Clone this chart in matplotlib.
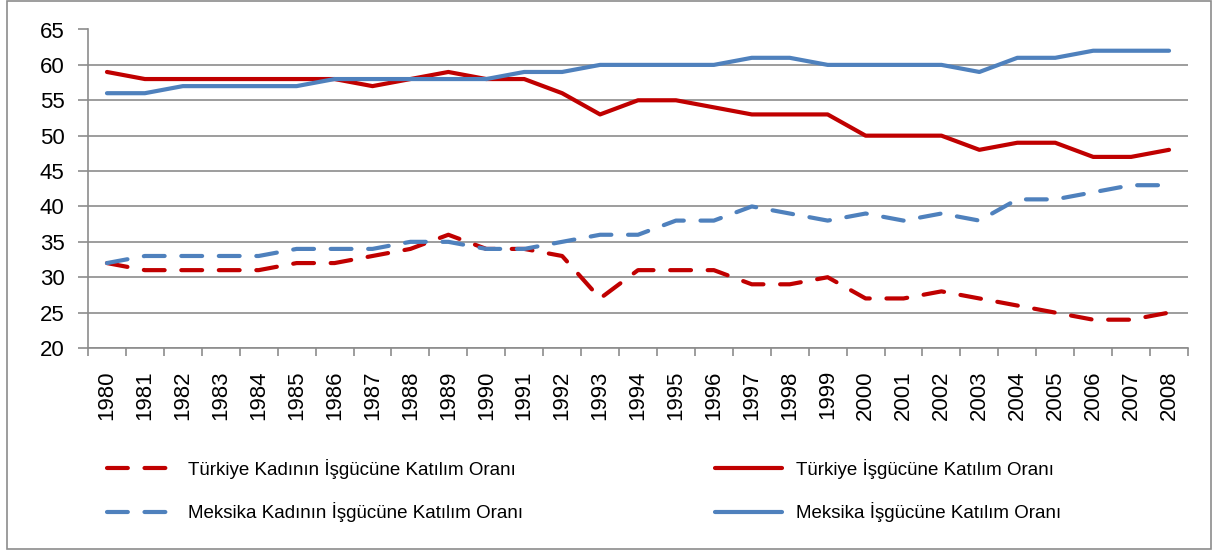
import matplotlib.pyplot as plt
from matplotlib.patches import Rectangle

years = [str(y) for y in range(1980, 2009)]

turkiye_kadin = [32, 31, 31, 31, 31, 32, 32, 33, 34, 36, 34, 34, 33, 27, 31,
                 31, 31, 29, 29, 30, 27, 27, 28, 27, 26, 25, 24, 24, 25]
turkiye_toplam = [59, 58, 58, 58, 58, 58, 58, 57, 58, 59, 58, 58, 56, 53, 55,
                  55, 54, 53, 53, 53, 50, 50, 50, 48, 49, 49, 47, 47, 48]
meksika_kadin = [32, 33, 33, 33, 33, 34, 34, 34, 35, 35, 34, 34, 35, 36, 36,
                 38, 38, 40, 39, 38, 39, 38, 39, 38, 41, 41, 42, 43, 43]
meksika_toplam = [56, 56, 57, 57, 57, 57, 58, 58, 58, 58, 58, 59, 59, 60, 60,
                  60, 60, 61, 61, 60, 60, 60, 60, 59, 61, 61, 62, 62, 62]

RED = '#C00000'
BLUE = '#4F81BD'
GRID = '#8C8C8C'

plt.rcParams['font.family'] = ['Liberation Sans', 'DejaVu Sans']

fig = plt.figure(figsize=(12.17, 5.52), dpi=100)
ax = fig.add_axes([88 / 1217, 1 - 348 / 552, (1188 - 88) / 1217, (348 - 29.5) / 552])

x = list(range(len(years)))
lw = 3.0
l1, = ax.plot(x, turkiye_kadin, color=RED, lw=lw, dashes=(5, 4),
              dash_capstyle='round', label='Türkiye Kadının İşgücüne Katılım Oranı')
l2, = ax.plot(x, turkiye_toplam, color=RED, lw=lw, solid_capstyle='round',
              label='Türkiye İşgücüne Katılım Oranı')
l3, = ax.plot(x, meksika_kadin, color=BLUE, lw=lw, dashes=(5, 4),
              dash_capstyle='round', label='Meksika Kadının İşgücüne Katılım Oranı')
l4, = ax.plot(x, meksika_toplam, color=BLUE, lw=lw, solid_capstyle='round',
              label='Meksika İşgücüne Katılım Oranı')

ax.set_ylim(20, 65)
ax.set_yticks(range(20, 66, 5))
ax.set_xlim(-0.5, len(years) - 0.5)
ax.set_xticks([i - 0.5 for i in range(len(years) + 1)])
ax.set_xticklabels([])
ax.set_xticks(x, minor=True)
ax.set_xticklabels(years, minor=True, rotation=90, fontsize=16)
ax.tick_params(axis='x', which='minor', length=0, pad=16)
ax.tick_params(axis='x', which='major', length=6, color=GRID, width=1.2)
ax.tick_params(axis='y', length=7, color=GRID, width=1.2, labelsize=16, pad=10)

ax.grid(axis='y', color=GRID, lw=1.2)
ax.set_axisbelow(True)
for s in ['top', 'right']:
    ax.spines[s].set_visible(False)
for s in ['left', 'bottom']:
    ax.spines[s].set_color(GRID)
    ax.spines[s].set_linewidth(1.2)

fig.legend(handles=[l1, l3, l2, l4], ncol=2, loc='upper left',
           bbox_to_anchor=(90 / 1217, 1 - 442 / 552), frameon=False,
           fontsize=13.5, handlelength=3.6, handletextpad=0.75,
           columnspacing=10.2, labelspacing=1.25)

fig.patches.append(Rectangle((7 / 1217, 3 / 552), 1204 / 1217, 548 / 552,
                             transform=fig.transFigure, fill=False,
                             edgecolor='#8C8C8C', lw=1.2))

fig.savefig('out.png', dpi=100)
